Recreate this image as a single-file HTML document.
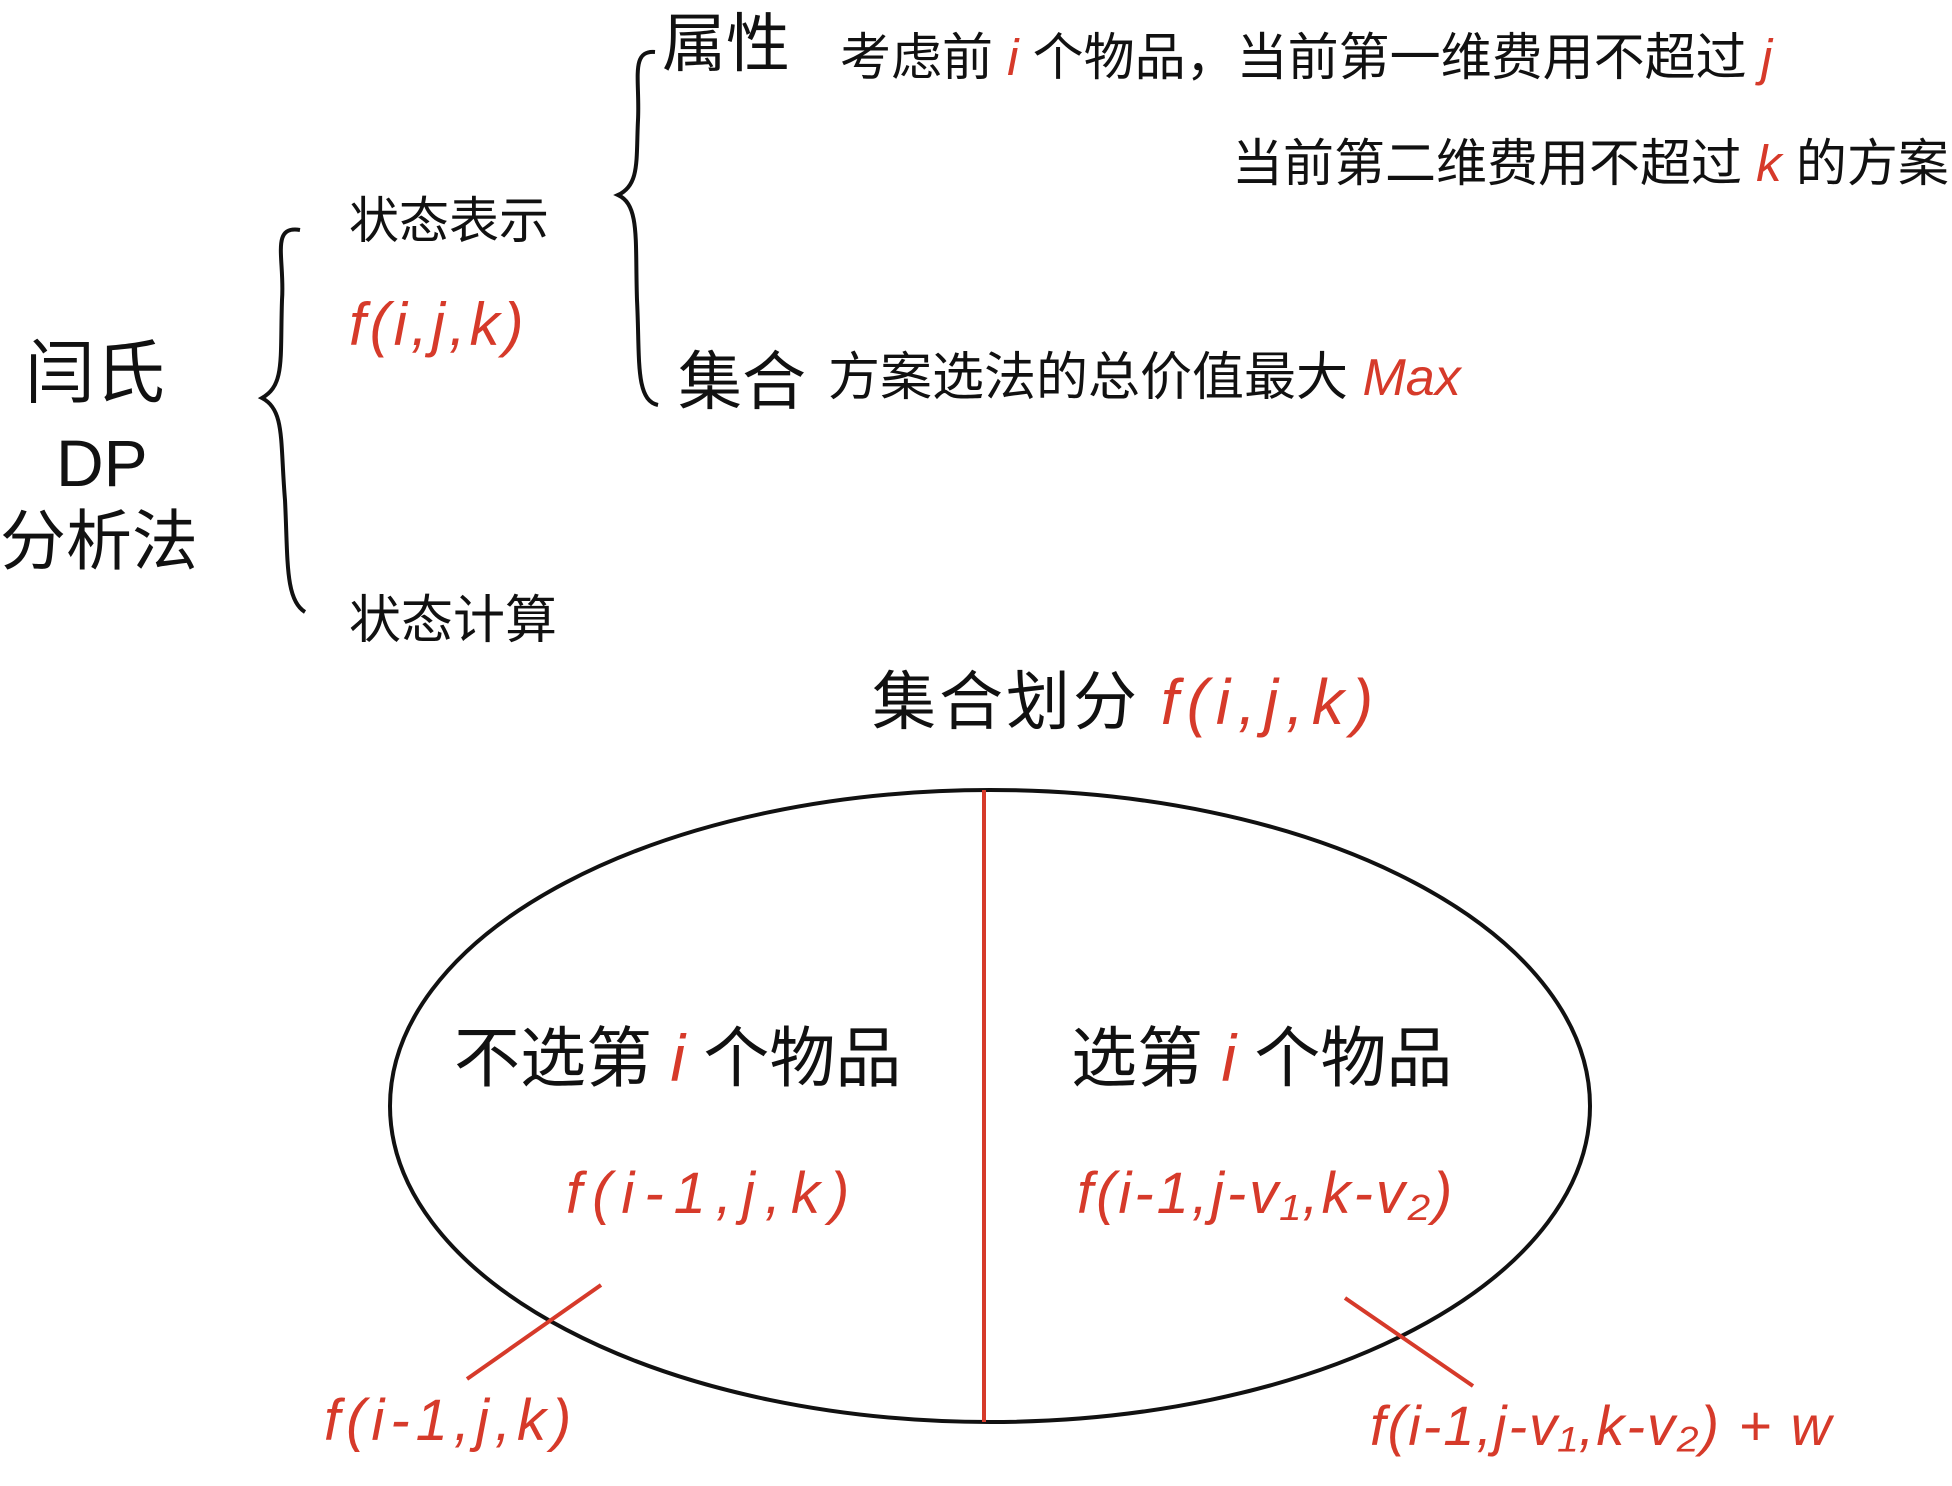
<!DOCTYPE html>
<html><head><meta charset="utf-8"><style>
body{margin:0;width:1952px;height:1486px;background:#fff;position:relative;overflow:hidden;font-family:"Liberation Sans","Noto Sans CJK SC",sans-serif;}
.t{position:absolute;white-space:nowrap;color:#111;line-height:1;}
.r{color:#d63a2a;font-style:italic;}
</style></head><body>
<svg width="1952" height="1486" style="position:absolute;left:0;top:0">
<path d="M300,230 C270,225 285,260 282,300 C280,360 285,385 262,398 C285,410 280,440 285,500 C288,560 285,600 305,612" fill="none" stroke="#111" stroke-width="4"/>
<path d="M655,52 C630,50 640,80 638,120 C636,160 640,185 618,195 C640,205 635,240 637,300 C640,360 635,400 658,405" fill="none" stroke="#111" stroke-width="4"/>
<ellipse cx="990" cy="1106" rx="600" ry="316" fill="none" stroke="#111" stroke-width="4"/>
<line x1="984" y1="790" x2="984" y2="1422" stroke="#d63a2a" stroke-width="4"/>
<line x1="601" y1="1285" x2="467" y2="1379" stroke="#d63a2a" stroke-width="4"/>
<line x1="1345" y1="1298" x2="1473" y2="1386" stroke="#d63a2a" stroke-width="4"/>
<text x="349" y="345" font-size="60" fill="#d63a2a" font-style="italic" font-family="Liberation Sans" letter-spacing="4">f(i,j,k)</text>
</svg>
<div class="t" style="left:25px;top:338px;font-size:70px">闫氏</div>
<div class="t" style="left:56px;top:430px;font-size:66px">DP</div>
<div class="t" style="left:0px;top:508px;font-size:66px">分析法</div>
<div class="t" style="left:349px;top:196px;font-size:50px">状态表示</div>
<div class="t" style="left:349px;top:595px;font-size:52px">状态计算</div>
<div class="t" style="left:662px;top:12px;font-size:64px">属性</div>
<div class="t" style="left:840px;top:32px;font-size:51px">考虑前 <span class="r">i</span> 个物品，当前第一维费用不超过 <span class="r">j</span></div>
<div class="t" style="left:1232px;top:138px;font-size:51px">当前第二维费用不超过 <span class="r">k</span> 的方案</div>
<div class="t" style="left:678px;top:350px;font-size:64px">集合</div>
<div class="t" style="left:828px;top:352px;font-size:52px">方案选法的总价值最大 <span class="r">Max</span></div>
<div class="t" style="left:872px;top:670px;font-size:64px;letter-spacing:3px">集合划分 <span class="r" style="letter-spacing:8px">f(i,j,k)</span></div>
<div class="t" style="left:454px;top:1025px;font-size:66px">不选第 <span class="r">i</span> 个物品</div>
<div class="t" style="left:1071px;top:1025px;font-size:66px">选第 <span class="r">i</span> 个物品</div>
<div class="t r" style="left:566px;top:1165px;font-size:58px;letter-spacing:10px">f(i-1,j,k)</div>
<div class="t r" style="left:1077px;top:1165px;font-size:58px;letter-spacing:3px">f(i-1,j-v₁,k-v₂)</div>
<div class="t r" style="left:324px;top:1392px;font-size:58px;letter-spacing:6px">f(i-1,j,k)</div>
<div class="t r" style="left:1370px;top:1398px;font-size:56px;letter-spacing:2px">f(i-1,j-v₁,k-v₂) + w</div>
</body></html>
